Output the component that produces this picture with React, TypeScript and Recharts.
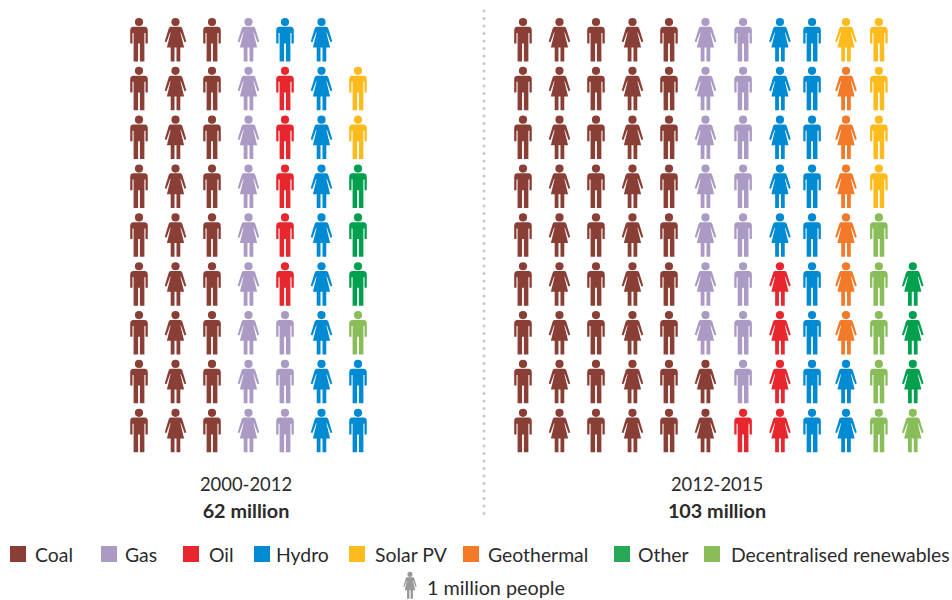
import { ReferenceLine, Scatter, ScatterChart, XAxis, YAxis } from "recharts";

const WIDTH = 952;
const HEIGHT = 600;

// column pitch and row pitch in pixels, used to set the axis domains
const COL_PX = 36.5;
const ROW_PX = 48.85;
const FIRST_COL_PX = 139;
const FIRST_ROW_PX = 40;

const categories = ["Coal", "Gas", "Oil", "Hydro", "Solar PV", "Geothermal", "Other", "Decentralised renewables"];
const legendColors = ["#8a3f36", "#ab9ac4", "#e7262d", "#008ad2", "#fdbb1e", "#f27a29", "#27a855", "#89bd5a"];
const markColors = ["#8a3f36", "#ab9ac4", "#e7262d", "#008ad2", "#fdbb1e", "#f27a29", "#00a04f", "#89bd5a"];

// each column reads top to bottom as [category, count]; "" leaves the slot empty
type Run = [string, number];

const leftFigures = ["man", "woman", "man", "woman", "man", "woman", "man"];
const leftColumns: Run[][] = [
  [["Coal", 9]],
  [["Coal", 9]],
  [["Coal", 9]],
  [["Gas", 9]],
  [["Hydro", 1], ["Oil", 5], ["Gas", 3]],
  [["Hydro", 9]],
  [["", 1], ["Solar PV", 2], ["Other", 3], ["Decentralised renewables", 1], ["Hydro", 2]],
];

const rightFigures = ["man", "woman", "man", "woman", "man", "woman", "man", "woman", "man", "woman", "man", "woman"];
const rightColumns: Run[][] = [
  [["Coal", 9]],
  [["Coal", 9]],
  [["Coal", 9]],
  [["Coal", 9]],
  [["Coal", 9]],
  [["Gas", 7], ["Coal", 2]],
  [["Gas", 8], ["Oil", 1]],
  [["Hydro", 5], ["Oil", 4]],
  [["Hydro", 9]],
  [["Solar PV", 1], ["Geothermal", 6], ["Hydro", 2]],
  [["Solar PV", 4], ["Decentralised renewables", 5]],
  [["", 5], ["Other", 3], ["Decentralised renewables", 1]],
];

const panelTitles = ["2000-2012", "2012-2015"];
const panelTotals = ["62 million", "103 million"];

// layout, in column units / pixels
const leftColumnUnits = [0, 1, 2, 3, 4, 5, 6];
const rightColumnUnits = [10.52, 11.52, 12.52, 13.52, 14.52, 15.52, 16.55, 17.56, 18.44, 19.37, 20.27, 21.2];
const panelCentres = [246, 717];
const legendBoxX = [10, 101, 183, 254, 349, 463, 614, 704];
const legendTextX = [35, 125, 209, 276, 375, 488, 638, 731];

type Point = { col: number; row: number; figure: string };

function buildPoints(columns: Run[][], figures: string[], units: number[], category: string) {
  const points: Point[] = [];
  columns.forEach((runs, c) => {
    let row = 0;
    runs.forEach(([name, count]) => {
      for (let i = 0; i < count; i++) {
        if (name === category) points.push({ col: units[c], row: row, figure: figures[c] });
        row++;
      }
    });
  });
  return points;
}

function Man({ x, y, fill, s = 1 }: { x: number; y: number; fill: string; s?: number }) {
  return (
    <g transform={`translate(${x} ${y}) scale(${s})`} fill={fill}>
      <circle cx={0} cy={-18} r={4.1} />
      <path d="M-5.6,-13.2 H5.6 Q8.8,-13.2 8.8,-9.6 V3.6 H6.5 V-7 H5.4 V21.4 H0.9 V3.6 H-0.9 V21.4 H-5.4 V-7 H-6.5 V3.6 H-8.8 V-9.6 Q-8.8,-13.2 -5.6,-13.2 Z" />
    </g>
  );
}

function Woman({ x, y, fill, s = 1 }: { x: number; y: number; fill: string; s?: number }) {
  return (
    <g transform={`translate(${x} ${y}) scale(${s})`} fill={fill}>
      <circle cx={0} cy={-18} r={4.1} />
      <path d="M-5,-13.2 H5 Q6.2,-13.2 6.8,-11.6 L10.8,1.6 L9,2.3 L5.4,-7.6 L4.9,-7.6 L8.6,7.6 H4.8 V21.4 H1 V7.6 H-1 V21.4 H-4.8 V7.6 H-8.6 L-4.9,-7.6 L-5.4,-7.6 L-9,2.3 L-10.8,1.6 L-6.8,-11.6 Q-6.2,-13.2 -5,-13.2 Z" />
    </g>
  );
}

function renderFigure(fill: string) {
  return (props: any) => {
    const Figure = props.payload.figure === "woman" ? Woman : Man;
    return <Figure x={props.cx} y={props.cy} fill={fill} />;
  };
}

const font = "Lato, sans-serif";
const textColor = "#2b2b2b";

export default function App() {
  return (
    <div style={{ position: "absolute", left: 0, top: 0, width: WIDTH, height: HEIGHT }}>
      <ScatterChart width={WIDTH} height={HEIGHT} margin={{ top: 0, right: 0, bottom: 0, left: 0 }}>
        <XAxis
          hide
          type="number"
          dataKey="col"
          allowDataOverflow
          domain={[-FIRST_COL_PX / COL_PX, (WIDTH - FIRST_COL_PX) / COL_PX]}
        />
        <YAxis
          hide
          reversed
          type="number"
          dataKey="row"
          allowDataOverflow
          domain={[-FIRST_ROW_PX / ROW_PX, (HEIGHT - FIRST_ROW_PX) / ROW_PX]}
        />
        <ReferenceLine
          segment={[
            { x: (484 - FIRST_COL_PX) / COL_PX, y: (11 - FIRST_ROW_PX) / ROW_PX },
            { x: (484 - FIRST_COL_PX) / COL_PX, y: (517 - FIRST_ROW_PX) / ROW_PX },
          ]}
          stroke="#c8c8c8"
          strokeWidth={3}
          strokeLinecap="round"
          strokeDasharray="0 7.5"
        />
        {categories.map((name, i) => (
          <Scatter
            key={name + "-left"}
            name={name}
            data={buildPoints(leftColumns, leftFigures, leftColumnUnits, name)}
            fill={markColors[i]}
            shape={renderFigure(markColors[i])}
            isAnimationActive={false}
          />
        ))}
        {categories.map((name, i) => (
          <Scatter
            key={name + "-right"}
            name={name}
            data={buildPoints(rightColumns, rightFigures, rightColumnUnits, name)}
            fill={markColors[i]}
            shape={renderFigure(markColors[i])}
            isAnimationActive={false}
          />
        ))}
        {panelCentres.map((x, i) => (
          <g key={x} fontFamily={font} fill={textColor} textAnchor="middle">
            <text x={x} y={491} fontSize={18.4}>{panelTitles[i]}</text>
            <text x={x} y={518} fontSize={19.8} fontWeight={700}>{panelTotals[i]}</text>
          </g>
        ))}
        {categories.map((name, i) => (
          <g key={name}>
            <rect x={legendBoxX[i]} y={546} width={16} height={16} fill={legendColors[i]} />
            <text x={legendTextX[i]} y={562} fontFamily={font} fontSize={19.4} fill={textColor}>
              {name}
            </text>
          </g>
        ))}
        <Woman x={410} y={585.5} fill="#999999" s={0.62} />
        <text x={427} y={594.5} fontFamily={font} fontSize={19.8} fill={textColor}>
          1 million people
        </text>
      </ScatterChart>
    </div>
  );
}
